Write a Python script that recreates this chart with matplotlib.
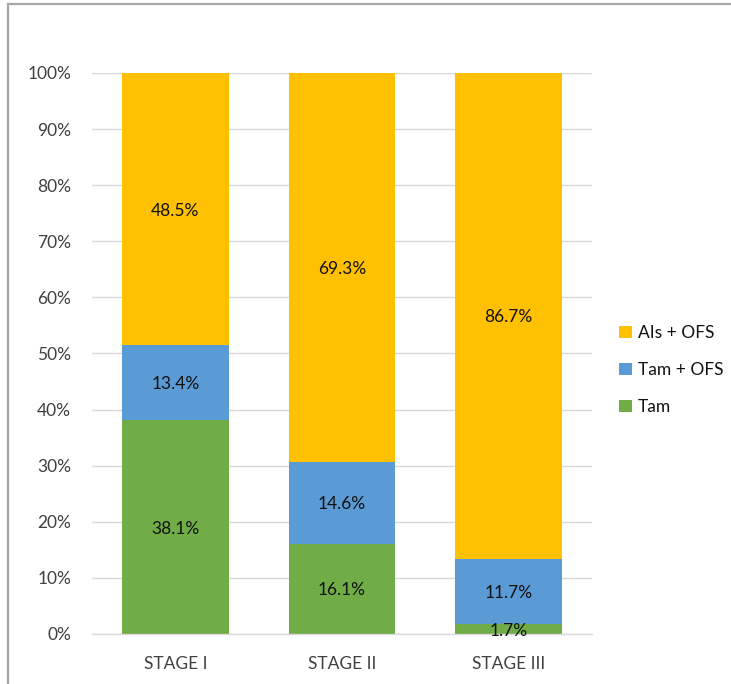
import numpy as np
import matplotlib
matplotlib.use('Agg')
import matplotlib.pyplot as plt
import matplotlib.patches as mpatches
from matplotlib.ticker import PercentFormatter

# ── Data ─────────────────────────────────────────────────────────────────────
stages = ['STAGE I', 'STAGE II', 'STAGE III']
tam = [38.1, 16.1, 1.7]
tam_ofs = [13.4, 14.6, 11.7]
ais_ofs = [48.5, 69.3, 86.7]
series_names = ['Tam', 'Tam + OFS', 'AIs + OFS']

C = dict(tam='#70AD47', tam_ofs='#5B9BD5', ais_ofs='#FFC000',
         tick='#404040', grid='#D9D9D9', text='#111111', frame='#A6A6A6')

plt.rcParams['font.family'] = ['Lato', 'DejaVu Sans']

fig = plt.figure(figsize=(7.31, 6.84), dpi=100)
fig.patch.set_facecolor('white')
ax = fig.add_axes([0.1259, 0.0731, 0.684, 0.8202])

# outer frame (only top and left edges visible in the crop)
fig.add_artist(mpatches.Rectangle((8 / 731, -0.1), 1.2, 1.1 - 4 / 684,
                                  transform=fig.transFigure, fill=False,
                                  edgecolor=C['frame'], lw=1.6))

x = np.arange(len(stages))
w = 0.64
bottom = np.zeros(len(stages))
for vals, col, name in zip([tam, tam_ofs, ais_ofs],
                           [C['tam'], C['tam_ofs'], C['ais_ofs']], series_names):
    vals = np.array(vals)
    ax.bar(x, vals, w, bottom=bottom, color=col, label=name, zorder=2)
    for xi, b, v in zip(x, bottom, vals):
        ax.text(xi, b + v / 2, f'{v:.1f}%', ha='center', va='center_baseline',
                fontsize=12.5, color=C['text'], zorder=3)
    bottom += vals

ax.set_xlim(-0.5, 2.5)
ax.set_ylim(0, 100)
ax.set_yticks(np.arange(0, 101, 10))
ax.yaxis.set_major_formatter(PercentFormatter(decimals=0))
ax.set_xticks(x)
ax.set_xticklabels(stages)
ax.tick_params(axis='both', length=0, labelsize=12.5, labelcolor=C['tick'])
ax.tick_params(axis='y', pad=15)
ax.tick_params(axis='x', pad=16)
ax.grid(axis='y', color=C['grid'], lw=1.0, zorder=0)
for s in ['top', 'right', 'left']:
    ax.spines[s].set_visible(False)
ax.spines['bottom'].set_color(C['grid'])
ax.spines['bottom'].set_linewidth(1.0)

handles, labels = ax.get_legend_handles_labels()
fig.legend(handles[::-1], labels[::-1], loc='center left',
           bbox_to_anchor=(0.826, 0.459), frameon=False, fontsize=12.5,
           handlelength=0.7, handleheight=0.7, handletextpad=0.35,
           labelspacing=1.2, labelcolor=C['text'])

fig.savefig('out.png', dpi=100, facecolor='white')
